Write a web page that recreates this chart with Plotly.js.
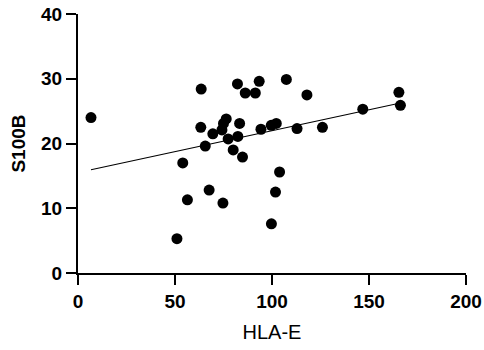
<!DOCTYPE html>
<html>
<head>
<meta charset="utf-8">
<script src="https://cdn.plot.ly/plotly-3.0.1.min.js"></script>
<style>html,body{margin:0;padding:0;background:#fff;}#chart{width:484px;height:350px;}</style>
</head>
<body>
<div id="chart"></div>
<script>
const hlaE = [6.7, 51, 54, 56.4, 63.5, 63.3, 65.6, 67.6, 69.5, 74.2, 75, 76.4, 74.7, 77.4, 80, 82.2, 82.4, 83.3, 84.8, 86.2, 91.4, 93.4, 94.3, 99.6, 99.7, 101.8, 102.2, 103.9, 107.4, 112.9, 118, 126, 146.8, 165.4, 166.2];
const s100b = [24.0, 5.3, 17.0, 11.3, 28.4, 22.5, 19.6, 12.8, 21.5, 22.1, 23.1, 23.8, 10.8, 20.7, 19.0, 29.2, 21.1, 23.1, 17.9, 27.8, 27.8, 29.6, 22.2, 22.8, 7.6, 12.5, 23.1, 15.6, 29.9, 22.3, 27.5, 22.5, 25.3, 27.9, 25.9];
const xTicks = [0, 50, 100, 150, 200];
const yTicks = [0, 10, 20, 30, 40];

// least-squares fit line
const n = hlaE.length;
const mx = hlaE.reduce((a,b)=>a+b,0)/n;
const my = s100b.reduce((a,b)=>a+b,0)/n;
let sxy = 0, sxx = 0;
for (let i=0;i<n;i++){ sxy += (hlaE[i]-mx)*(s100b[i]-my); sxx += (hlaE[i]-mx)**2; }
const slope = sxy/sxx, icpt = my - slope*mx;
const fx = [Math.min(...hlaE), Math.max(...hlaE)];
const fy = fx.map(v => icpt + slope*v);

const font = 'Liberation Sans';
Plotly.newPlot('chart', [
  {x: fx, y: fy, mode: 'lines', line: {color: '#000', width: 1.2}, hoverinfo: 'skip', cliponaxis: false},
  {x: hlaE, y: s100b, mode: 'markers', marker: {color: '#000', size: 11}, cliponaxis: false}
], {
  width: 484, height: 350,
  margin: {l: 78, r: 18, t: 14, b: 77},
  paper_bgcolor: '#fff', plot_bgcolor: '#fff',
  showlegend: false,
  xaxis: {
    range: [0, 200], tickvals: xTicks, ticktext: xTicks.map(v => '<b>' + v + '</b>'),
    showgrid: false, zeroline: false, showline: true, linecolor: '#000', linewidth: 2,
    ticks: 'outside', ticklen: 10, tickwidth: 2, tickcolor: '#000',
    tickfont: {family: font, size: 19, color: '#000', weight: 700},
    title: {text: 'HLA-E', font: {family: font, size: 20, color: '#000'}, standoff: 14}
  },
  yaxis: {
    range: [0, 40], tickvals: yTicks, ticktext: yTicks.map(v => '<b>' + v + '</b>'),
    showgrid: false, zeroline: false, showline: true, linecolor: '#000', linewidth: 2,
    ticks: 'outside', ticklen: 10, tickwidth: 2, tickcolor: '#000',
    tickfont: {family: font, size: 19, color: '#000', weight: 700},
    title: {text: '<b>S100B</b>', font: {family: font, size: 19, color: '#000'}, standoff: 10}
  }
}, {displayModeBar: false, staticPlot: true});
</script>
</body>
</html>
